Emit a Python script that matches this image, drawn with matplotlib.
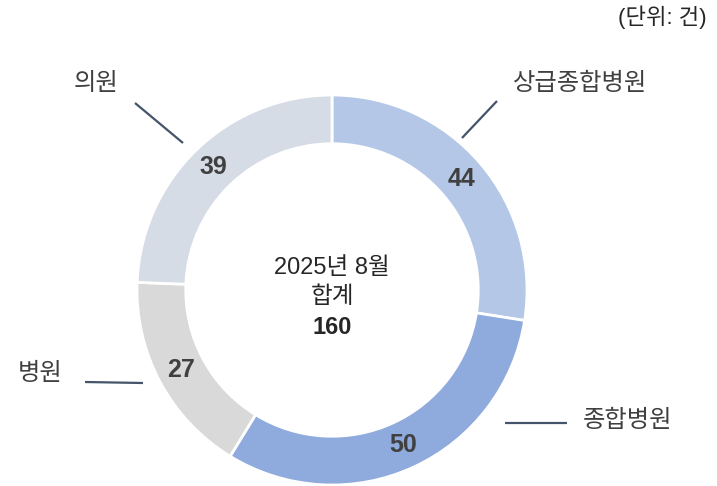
import matplotlib
matplotlib.use("Agg")
import matplotlib.pyplot as plt
import numpy as np

plt.rcParams['font.family'] = ['Liberation Sans', 'Noto Sans CJK KR', 'DejaVu Sans']

categories = ['상급종합병원', '종합병원', '병원', '의원']
values = [44, 50, 27, 39]
colors = ['#b4c7e7', '#8faadc', '#d9d9d9', '#d6dce5']
center_title = '2025년 8월'
center_sub = '합계'
unit_text = '(단위: 건)'

W, H = 717, 486
CX, CY, R = 332, 290, 195


def px(x, y):
    # pixel position -> data units (pie radius = 1)
    return (x - CX) / R, (CY - y) / R


fig = plt.figure(figsize=(W / 100, H / 100), dpi=100)
ax = fig.add_axes([0, 0, 1, 1])

wedges, _ = ax.pie(values, colors=colors, startangle=90, counterclock=False,
                   radius=1.0, wedgeprops=dict(width=0.25, edgecolor='white', linewidth=2))

# value labels in the middle of the ring
for w, v in zip(wedges, values):
    ang = np.deg2rad((w.theta1 + w.theta2) / 2)
    r = 0.875
    ax.text(r * np.cos(ang), r * np.sin(ang), str(v), ha='center', va='center',
            fontsize=18, fontweight='bold', color='#404040')

# category labels with leader lines
label_pos = {'상급종합병원': (580, 84), '종합병원': (627, 421), '병원': (40, 374), '의원': (96, 84)}
leader = {'상급종합병원': ((497, 101), (462, 138)),
          '종합병원': ((505, 423), (567, 423)),
          '병원': ((85, 382), (143, 383)),
          '의원': ((135, 103), (183, 143))}
for c in categories:
    tx, ty = px(*label_pos[c])
    ax.text(tx, ty, c, ha='center', va='center', fontsize=17.5, color='#404040')
    (x1, y1), (x2, y2) = leader[c]
    a, b = px(x1, y1)
    d, e = px(x2, y2)
    ax.plot([a, d], [b, e], color='#44546a', lw=1.6, solid_capstyle='butt')

# center text
total = sum(values)
ax.text(*px(CX, 268), center_title, ha='center', va='center', fontsize=17, color='#262626')
ax.text(*px(CX, 297), center_sub, ha='center', va='center', fontsize=17, color='#262626')
ax.text(*px(CX, 327), str(total), ha='center', va='center', fontsize=17,
        fontweight='bold', color='#262626')

ax.text(*px(707, 17), unit_text, ha='right', va='center', fontsize=16, color='#262626')

ax.set_xlim(-CX / R, (W - CX) / R)
ax.set_ylim((CY - H) / R, CY / R)
ax.set_aspect('equal', adjustable='box')
ax.axis('off')

fig.savefig('out.png', dpi=100)
